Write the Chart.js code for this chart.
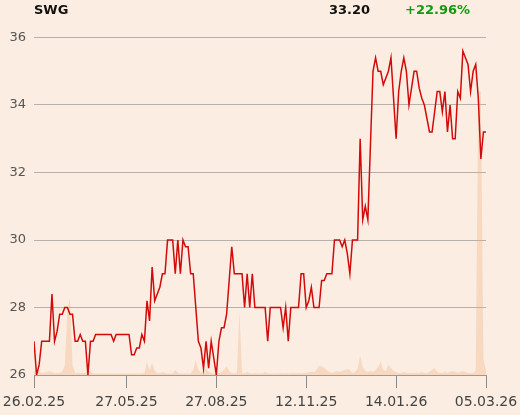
<!DOCTYPE html>
<html>
<head>
<meta charset="utf-8">
<script src="https://cdn.jsdelivr.net/npm/chart.js@4/dist/chart.umd.min.js"></script>
<style>
  html, body { margin: 0; padding: 0; background: #fbede1; }
  #wrap { position: relative; width: 520px; height: 415px; font-family: "DejaVu Sans", sans-serif; }
  #myChart { position: absolute; left: 0; top: 0; }
  .hdr { position: absolute; top: 2px; line-height: 16px; font-size: 13px; font-weight: bold; }
</style>
</head>
<body>
<div id="wrap">
  <canvas id="myChart" width="520" height="415"></canvas>
  <div class="hdr" style="left:34px;color:#111;">SWG</div>
  <div class="hdr" style="right:150px;color:#111;">33.20</div>
  <div class="hdr" style="left:405px;color:#119a11;">+22.96%</div>
</div>
<script>
// posizioni dei tick sull'asse X (indice del punto) e relative etichette
const tickIdx = [0, 36, 71, 106, 141, 176];
const tickLabels = ["26.02.25", "27.05.25", "27.08.25", "12.11.25", "14.01.26", "05.03.26"];

// prezzo di chiusura
const prezzi = [
  27.0, 26.0, 26.3, 27.0, 27.0, 27.0, 27.0, 28.4, 27.0, 27.3,
  27.8, 27.8, 28.0, 28.0, 27.8, 27.8, 27.0, 27.0, 27.2, 27.0,
  27.0, 26.0, 27.0, 27.0, 27.2, 27.2, 27.2, 27.2, 27.2, 27.2,
  27.2, 27.0, 27.2, 27.2, 27.2, 27.2, 27.2, 27.2, 26.6, 26.6,
  26.8, 26.8, 27.2, 27.0, 28.2, 27.6, 29.2, 28.2, 28.4, 28.6,
  29.0, 29.0, 30.0, 30.0, 30.0, 29.0, 30.0, 29.0, 30.0, 29.8,
  29.8, 29.0, 29.0, 28.0, 27.0, 26.8, 26.2, 27.0, 26.2, 27.0,
  26.5, 26.0, 27.0, 27.4, 27.4, 27.8, 28.8, 29.8, 29.0, 29.0,
  29.0, 29.0, 28.0, 29.0, 28.0, 29.0, 28.0, 28.0, 28.0, 28.0,
  28.0, 27.0, 28.0, 28.0, 28.0, 28.0, 28.0, 27.4, 28.0, 27.0,
  28.0, 28.0, 28.0, 28.0, 29.0, 29.0, 28.0, 28.2, 28.6, 28.0,
  28.0, 28.0, 28.8, 28.8, 29.0, 29.0, 29.0, 30.0, 30.0, 30.0,
  29.8, 30.0, 29.6, 29.0, 30.0, 30.0, 30.0, 33.0, 30.6, 31.0,
  30.6, 32.8, 35.0, 35.4, 35.0, 35.0, 34.6, 34.8, 35.0, 35.4,
  34.2, 33.0, 34.4, 35.0, 35.4, 35.0, 34.0, 34.5, 35.0, 35.0,
  34.5, 34.2, 34.0, 33.6, 33.2, 33.2, 33.8, 34.4, 34.4, 33.8,
  34.4, 33.2, 34.0, 33.0, 33.0, 34.4, 34.2, 35.6, 35.4, 35.2,
  34.4, 35.0, 35.2, 34.2, 32.4, 33.2, 33.2
];

// volumi scambiati
const volumi = [
  90, 150, 120, 60, 60, 90, 120, 90, 60, 60,
  60, 90, 300, 1900, 2300, 300, 60, 60, 60, 60,
  60, 90, 120, 45, 45, 45, 45, 45, 45, 45,
  45, 45, 45, 45, 45, 45, 45, 45, 45, 45,
  45, 45, 45, 60, 390, 150, 360, 120, 60, 45,
  90, 60, 45, 45, 45, 150, 60, 45, 45, 45,
  45, 45, 150, 450, 150, 60, 150, 180, 90, 60,
  45, 60, 60, 90, 150, 250, 120, 60, 45, 60,
  1900, 60, 45, 90, 60, 45, 60, 45, 45, 45,
  90, 45, 45, 45, 45, 45, 60, 45, 60, 45,
  45, 60, 45, 60, 45, 60, 60, 90, 90, 90,
  150, 270, 270, 210, 150, 90, 60, 90, 120, 90,
  120, 150, 180, 150, 60, 90, 180, 570, 240, 120,
  90, 120, 90, 150, 240, 400, 150, 120, 300, 210,
  120, 90, 60, 60, 90, 60, 60, 60, 60, 60,
  60, 90, 60, 60, 90, 150, 210, 90, 60, 60,
  90, 60, 90, 120, 90, 60, 90, 120, 90, 60,
  60, 60, 120, 8400, 8400, 450, 150
];

const ctx = document.getElementById("myChart").getContext("2d");

let chartInstance = new Chart(ctx, {
  type: "line",
  data: {
    datasets: [
      {
        label: "SWG",
        data: prezzi.map((v, i) => ({ x: i, y: v })),
        borderColor: "#d20a0a",
        borderWidth: 1.5,
        pointRadius: 0,
        tension: 0,
        yAxisID: "y",
        order: 1,
      },
      {
        label: "Volume",
        data: volumi.map((v, i) => ({ x: i, y: v })),
        borderWidth: 0,
        backgroundColor: "rgba(240, 170, 120, 0.3)",
        fill: "origin",
        pointRadius: 0,
        tension: 0,
        yAxisID: "y2",
        order: 2,
      },
    ],
  },
  options: {
    responsive: false,
    animation: false,
    devicePixelRatio: 1,
    layout: { padding: { top: 37.5, right: 34, left: 0, bottom: 0 } },
    plugins: { legend: { display: false }, tooltip: { enabled: false } },
    scales: {
      x: {
        type: "linear",
        min: 0,
        max: prezzi.length - 1,
        afterBuildTicks: (s) => {
          s.ticks = tickIdx.map((v) => ({ value: v }));
        },
        afterFit: (s) => {
          s.height = 40;
          // niente spazio extra per le etichette ai bordi
          s.paddingLeft = 0;
          s.paddingRight = 0;
        },
        ticks: {
          callback: (v) => tickLabels[tickIdx.indexOf(v)],
          autoSkip: false,
          maxRotation: 0,
          padding: 6,
          color: "#444",
          font: { family: "DejaVu Sans", size: 14 },
        },
        grid: {
          drawOnChartArea: false,
          drawTicks: true,
          tickLength: 13,
          color: "#8a8a8a",
        },
        border: { display: true, color: "#999", width: 1 },
      },
      y: {
        min: 26,
        max: 36,
        afterFit: (s) => {
          s.width = 34;
          s.paddingTop = 0;
          s.paddingBottom = 0;
        },
        ticks: {
          stepSize: 2,
          padding: 8,
          color: "#555",
          font: { family: "DejaVu Sans", size: 13 },
        },
        grid: { color: "#b6b1ac", drawTicks: false },
        border: { display: false },
      },
      y2: {
        display: false,
        min: 0,
        max: 10000,
      },
    },
  },
});
</script>
</body>
</html>
